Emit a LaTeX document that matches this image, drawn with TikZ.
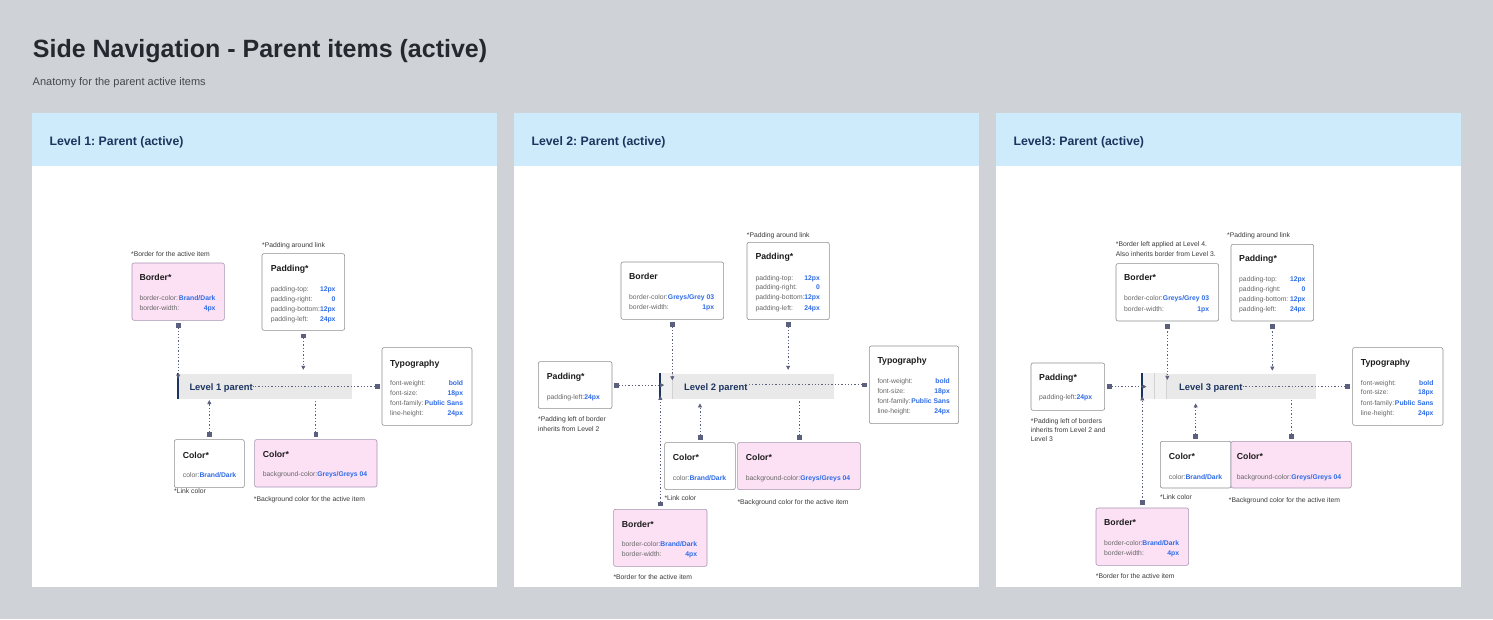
\documentclass[tikz,border=0pt]{standalone}
\usepackage{fontspec}
\setmainfont{Liberation Sans}
\usetikzlibrary{arrows.meta, calc}
\definecolor{bggray}{HTML}{CFD3D7}
\definecolor{hdrblue}{HTML}{CDEBFA}
\definecolor{navy}{HTML}{1C3560}
\definecolor{inkdark}{HTML}{24292F}
\definecolor{titleink}{HTML}{1B1B1B}
\definecolor{pinkfill}{HTML}{FCE1F5}
\definecolor{pinkline}{HTML}{A694B2}
\definecolor{boxline}{HTML}{8E8E8E}
\definecolor{valblue}{HTML}{2E6BE6}
\definecolor{lblgray}{HTML}{666666}
\definecolor{notegray}{HTML}{3A3A3A}
\definecolor{connline}{HTML}{5C607F}
\definecolor{barfill}{HTML}{E9E9E9}
\definecolor{stripfill}{HTML}{F0F0F0}
\definecolor{faint}{HTML}{D2D2D2}

\newcommand{\valtxt}[1]{\textcolor{valblue}{\bfseries #1}}
% one property line of a box: name, x left, x right, baseline, label, value
\newcommand{\proprow}[6]{%
  \node[lbl] (#1l) at (#2,#4) {#5};
  \node[val] (#1v) at (#3,#4) {#6};}

\begin{document}
\frenchspacing
\begin{tikzpicture}[x=1pt, y=-1pt,
  wbox/.style={draw=boxline, fill=white, rounded corners=2pt, line width=0.6pt,
    anchor=north west, inner sep=0},
  pbox/.style={wbox, draw=pinkline, fill=pinkfill},
  bar/.style={fill=barfill, anchor=north west, inner sep=0, minimum height=25.7},
  boxtitle/.style={font=\fontsize{8.7}{10}\selectfont\bfseries, text=titleink,
    anchor=base west, inner sep=0},
  lbl/.style={font=\fontsize{6.8}{8}\selectfont, text=lblgray, anchor=base west, inner sep=0},
  val/.style={font=\fontsize{6.8}{8}\selectfont\bfseries, text=valblue, anchor=base east, inner sep=0},
  note/.style={font=\fontsize{6.8}{8}\selectfont, text=notegray, anchor=base west, inner sep=0},
  navtxt/.style={font=\fontsize{9.4}{11}\selectfont\bfseries, text=navy, anchor=base west, inner sep=0},
  hdr/.style={font=\fontsize{12.3}{14}\selectfont\bfseries, text=navy, anchor=base west, inner sep=0},
  conn/.style={connline, line width=0.7pt, dash pattern=on 1.3pt off 2pt,
    {Square[length=4.5pt,width=4.5pt]}-{Triangle[length=4pt,width=4pt]}},
  connend/.style={conn, {Square[length=4.5pt,width=4.5pt]}-}]

% Background
\fill[bggray] (0,0) rectangle (1493,619);
\useasboundingbox (0,0) rectangle (1493,619);

% Title
\node[font=\fontsize{25}{30}\selectfont\bfseries, text=inkdark, anchor=base west, inner sep=0]
  (title) at (32.7,57) {Side Navigation - Parent items (active)};
\node[font=\fontsize{11}{13}\selectfont, text=inkdark!85, anchor=base west, inner sep=0]
  (subtitle) at (32.5,85.5) {Anatomy for the parent active items};

% Panels with headers
\foreach \px/\lvl [count=\i] in {31.7/Level 1, 513.7/Level 2, 995.7/Level3} {
  \fill[white] (\px,112.7) rectangle ++(465.6,474.3);
  \fill[hdrblue] (\px,112.7) rectangle ++(465.6,53);
  \node[hdr] (hdr\i) at (\px+17.6,145) {\lvl: Parent (active)};
}

% ================= Level 1 =================
\node[pbox, minimum width=92.3, minimum height=57.3] (brd1) at (131.7,262.7) {};
\node[note] (brd1n) at (131,256.5) {*Border for the active item};
\node[boxtitle] (brd1t) at (139.3,280.5) {Border*};
\proprow{brd1a}{139.3}{215.7}{300.3}{border-color:}{Brand/Dark}
\proprow{brd1b}{139.3}{215.7}{310.6}{border-width:}{4px}

\node[wbox, minimum width=82.6, minimum height=76.7] (pad1) at (261.7,253.3) {};
\node[note] (pad1n) at (262,247) {*Padding around link};
\node[boxtitle] (pad1t) at (270.7,271.1) {Padding*};
\proprow{pad1a}{270.7}{335.7}{291}{padding-top:}{12px}
\proprow{pad1b}{270.7}{335.7}{301}{padding-right:}{0}
\proprow{pad1c}{270.7}{335.7}{311.3}{padding-bottom:}{12px}
\proprow{pad1d}{270.7}{335.7}{321.3}{padding-left:}{24px}

\node[bar, minimum width=175.2] (bar1) at (176.5,373.3) {};
\fill[navy] (bar1.north west) rectangle ([xshift=2.5]bar1.south west);
\node[navtxt] (nav1) at (189.3,390.4) {Level 1 parent};

\node[wbox, minimum width=90, minimum height=77.7] (typ1) at (381.7,347.3) {};
\node[boxtitle] (typ1t) at (390,366.4) {Typography};
\proprow{typ1a}{390}{463.3}{385}{font-weight:}{bold}
\proprow{typ1b}{390}{463.3}{395}{font-size:}{18px}
\proprow{typ1c}{390}{463.3}{405}{font-family:}{Public Sans}
\proprow{typ1d}{390}{463.3}{415.3}{line-height:}{24px}

\node[wbox, minimum width=70, minimum height=48] (col1) at (174,439.3) {};
\node[boxtitle] (col1t) at (182.7,458.1) {Color*};
\node[lbl] (col1a) at (182.7,477) {color:\valtxt{Brand/Dark}};
\node[note] (col1n) at (174,493.3) {*Link color};

\node[pbox, minimum width=122.4, minimum height=47.4] (bgc1) at (254.3,439.3) {};
\node[boxtitle] (bgc1t) at (262.7,457.8) {Color*};
\node[lbl] (bgc1a) at (262.7,476.6) {background-color:\valtxt{Greys/Greys 04}};
\node[note] (bgc1n) at (253.7,501.6) {*Background color for the active item};

% connectors
\draw[conn] ([yshift=-2.5]brd1.south) -- ([yshift=-5.3]brd1.south |- bar1.north);
\draw[conn] ([yshift=-3]pad1.south) -- ([yshift=3.5]pad1.south |- bar1.north);
\draw[connend] ([xshift=-2.5]typ1.west) -- (nav1.east |- typ1.west);
\draw[conn] ([yshift=3]col1.north) -- ([yshift=-0.7]col1.north |- bar1.south);
\draw[connend] ([yshift=3]bgc1.north) -- (bgc1.north |- bar1.south);

% ================= Level 2 =================
\node[wbox, minimum width=102.6, minimum height=57.3] (brd2) at (620.7,261.7) {};
\node[boxtitle] (brd2t) at (629,279.1) {Border};
\proprow{brd2a}{629}{714.3}{299}{border-color:}{Greys/Grey 03}
\proprow{brd2b}{629}{714.3}{309.6}{border-width:}{1px}

\node[wbox, minimum width=82.3, minimum height=77.3] (pad2) at (746.7,242) {};
\node[note] (pad2n) at (746.7,237) {*Padding around link};
\node[boxtitle] (pad2t) at (755.3,259.8) {Padding*};
\proprow{pad2a}{755.3}{820}{280}{padding-top:}{12px}
\proprow{pad2b}{755.3}{820}{289.6}{padding-right:}{0}
\proprow{pad2c}{755.3}{820}{299.6}{padding-bottom:}{12px}
\proprow{pad2d}{755.3}{820}{310}{padding-left:}{24px}

\node[wbox, minimum width=73.7, minimum height=47] (padl2) at (538,361.3) {};
\node[boxtitle] (padl2t) at (546.7,379.1) {Padding*};
\node[lbl] (padl2a) at (546.7,399) {padding-left:\valtxt{24px}};
\node[note] (padl2n) at (538,421.6) {*Padding left of border};
\node[note] (padl2m) at (538,431.6) {inherits from Level 2};

\node[bar, minimum width=174.6] (bar2) at (658.7,373.3) {};
\fill[stripfill] ([xshift=2.5]bar2.north west) rectangle ([xshift=13.3]bar2.south west);
\draw[faint, line width=0.6pt] ([xshift=13.3]bar2.north west) -- ([xshift=13.3]bar2.south west);
\fill[navy] (bar2.north west) rectangle ([xshift=2.5]bar2.south west);
\node[navtxt] (nav2) at (684,390.1) {Level 2 parent};

\node[wbox, minimum width=89.3, minimum height=77.6] (typ2) at (869,345.7) {};
\node[boxtitle] (typ2t) at (877.3,363.8) {Typography};
\proprow{typ2a}{877.3}{950}{383.6}{font-weight:}{bold}
\proprow{typ2b}{877.3}{950}{393.6}{font-size:}{18px}
\proprow{typ2c}{877.3}{950}{403.6}{font-family:}{Public Sans}
\proprow{typ2d}{877.3}{950}{413.6}{line-height:}{24px}

\node[wbox, minimum width=70.7, minimum height=47] (col2) at (664.3,442.3) {};
\node[boxtitle] (col2t) at (672.7,460.8) {Color*};
\node[lbl] (col2a) at (672.7,480) {color:\valtxt{Brand/Dark}};
\node[note] (col2n) at (664.3,500) {*Link color};

\node[pbox, minimum width=122.7, minimum height=47] (bgc2) at (737.3,442.3) {};
\node[boxtitle] (bgc2t) at (745.7,460.8) {Color*};
\node[lbl] (bgc2a) at (745.7,480) {background-color:\valtxt{Greys/Greys 04}};
\node[note] (bgc2n) at (737.3,504) {*Background color for the active item};

\node[pbox, minimum width=93.4, minimum height=57] (act2) at (613.3,509) {};
\node[boxtitle] (act2t) at (621.7,527.4) {Border*};
\proprow{act2a}{621.7}{697.3}{546.6}{border-color:}{Brand/Dark}
\proprow{act2b}{621.7}{697.3}{556}{border-width:}{4px}
\node[note] (act2n) at (613.3,579.6) {*Border for the active item};

% connectors
\draw[conn] ([xshift=2]padl2.east) -- ([xshift=5.5]bar2.west |- padl2.east);
\draw[conn] ([yshift=-2.5]brd2.south) -- ([yshift=-7]brd2.south |- bar2.north);
\draw[conn] ([yshift=-2.5]pad2.south) -- ([yshift=3.5]pad2.south |- bar2.north);
\draw[connend] ([xshift=-2.5]typ2.west) -- (nav2.east |- typ2.west);
\draw[conn] ([yshift=2.5]col2.north) -- ([yshift=-4]col2.north |- bar2.south);
\draw[connend] ([yshift=2.5]bgc2.north) -- (bgc2.north |- bar2.south);
\draw[conn] ([yshift=3]act2.north) -- ([yshift=3.5]act2.north |- bar2.south);

% ================= Level 3 =================
\node[note] (brd3n) at (1115.7,246.3) {*Border left applied at Level 4.};
\node[note] (brd3m) at (1115.7,256.3) {Also inherits border from Level 3.};
\node[wbox, minimum width=102.6, minimum height=57.4] (brd3) at (1115.7,263.3) {};
\node[boxtitle] (brd3t) at (1124,280.8) {Border*};
\proprow{brd3a}{1124}{1209.3}{300.6}{border-color:}{Greys/Grey 03}
\proprow{brd3b}{1124}{1209.3}{311.6}{border-width:}{1px}

\node[wbox, minimum width=82.6, minimum height=76.7] (pad3) at (1230.7,244) {};
\node[note] (pad3n) at (1227,237) {*Padding around link};
\node[boxtitle] (pad3t) at (1239,261.4) {Padding*};
\proprow{pad3a}{1239}{1305.7}{281.3}{padding-top:}{12px}
\proprow{pad3b}{1239}{1305.7}{291.3}{padding-right:}{0}
\proprow{pad3c}{1239}{1305.7}{301.6}{padding-bottom:}{12px}
\proprow{pad3d}{1239}{1305.7}{311.6}{padding-left:}{24px}

\node[wbox, minimum width=73.6, minimum height=47.3] (padl3) at (1030.7,362.7) {};
\node[boxtitle] (padl3t) at (1039,380.4) {Padding*};
\node[lbl] (padl3a) at (1039,399.6) {padding-left:\valtxt{24px}};
\node[note] (padl3n) at (1030.7,423) {*Padding left of borders};
\node[note] (padl3m) at (1030.7,432.3) {inherits from Level 2 and};
\node[note] (padl3o) at (1030.7,441.6) {Level 3};

\node[bar, minimum width=175.5] (bar3) at (1140.5,373.3) {};
\fill[stripfill] ([xshift=2.5]bar3.north west) rectangle ([xshift=26]bar3.south west);
\foreach \dx in {13.5, 26}
  \draw[faint, line width=0.6pt] ([xshift=\dx]bar3.north west) -- ([xshift=\dx]bar3.south west);
\fill[navy] (bar3.north west) rectangle ([xshift=2.5]bar3.south west);
\node[navtxt] (nav3) at (1179,390.1) {Level 3 parent};

\node[wbox, minimum width=90.4, minimum height=77.7] (typ3) at (1352.3,347.3) {};
\node[boxtitle] (typ3t) at (1360.7,365.8) {Typography};
\proprow{typ3a}{1360.7}{1433.7}{385}{font-weight:}{bold}
\proprow{typ3b}{1360.7}{1433.7}{394.6}{font-size:}{18px}
\proprow{typ3c}{1360.7}{1433.7}{405}{font-family:}{Public Sans}
\proprow{typ3d}{1360.7}{1433.7}{415}{line-height:}{24px}

\node[wbox, minimum width=70.7, minimum height=46.7] (col3) at (1160,441) {};
\node[boxtitle] (col3t) at (1168.7,459.1) {Color*};
\node[lbl] (col3a) at (1168.7,479) {color:\valtxt{Brand/Dark}};
\node[note] (col3n) at (1160,499.3) {*Link color};

\node[pbox, minimum width=120.3, minimum height=46.7] (bgc3) at (1230.7,441) {};
\node[boxtitle] (bgc3t) at (1236.7,459.1) {Color*};
\node[lbl] (bgc3a) at (1236.7,479) {background-color:\valtxt{Greys/Greys 04}};
\node[note] (bgc3n) at (1228.7,502.6) {*Background color for the active item};

\node[pbox, minimum width=92.6, minimum height=57.3] (act3) at (1095.7,507.7) {};
\node[boxtitle] (act3t) at (1104,525.4) {Border*};
\proprow{act3a}{1104}{1179.3}{545.6}{border-color:}{Brand/Dark}
\proprow{act3b}{1104}{1179.3}{555.3}{border-width:}{4px}
\node[note] (act3n) at (1095.7,578) {*Border for the active item};

% connectors
\draw[conn] ([xshift=2.5]padl3.east) -- ([xshift=6]bar3.west |- padl3.east);
\draw[conn] ([yshift=-2.5]brd3.south) -- ([yshift=-6.6]brd3.south |- bar3.north);
\draw[conn] ([yshift=-2.5]pad3.south) -- ([yshift=2.7]pad3.south |- bar3.north);
\draw[connend] ([xshift=-2.5]typ3.west) -- (nav3.east |- typ3.west);
\draw[conn] ([yshift=2.5]col3.north) -- ([yshift=-4]col3.north |- bar3.south);
\draw[connend] ([yshift=2.5]bgc3.north) -- (bgc3.north |- bar3.south);
\draw[conn] ([yshift=2.75]act3.north) -- ([yshift=3]act3.north |- bar3.south);

\end{tikzpicture}
\end{document}
